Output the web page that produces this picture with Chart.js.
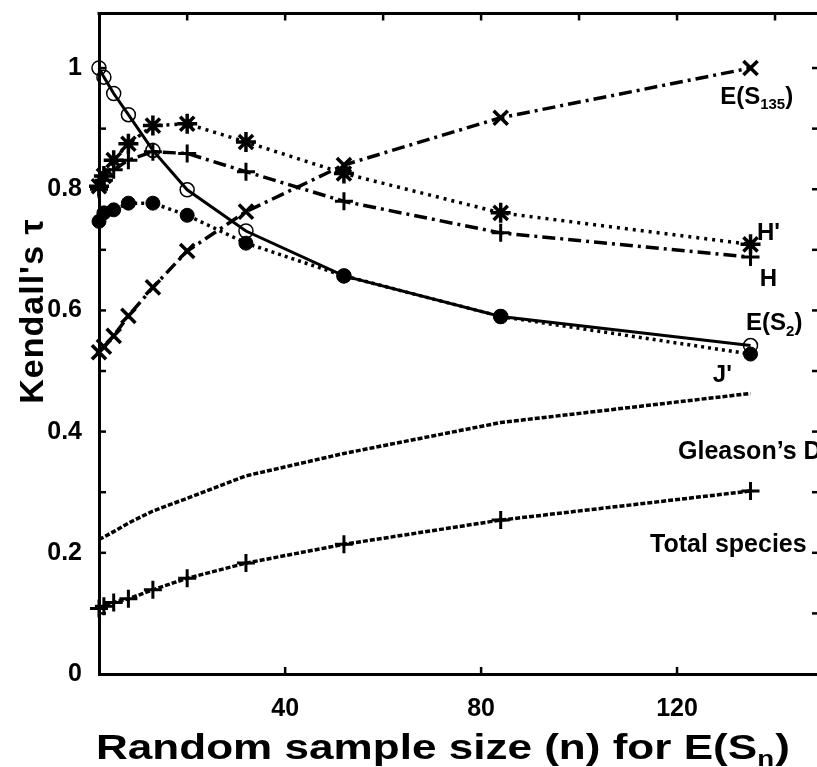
<!DOCTYPE html>
<html>
<head>
<meta charset="utf-8">
<script src="https://cdn.jsdelivr.net/npm/chart.js@4"></script>
<style>
  html, body { margin: 0; padding: 0; background: #fff; overflow: hidden; }
  #wrap { width: 840px; height: 767px; }
</style>
</head>
<body>
<div id="wrap"><canvas id="tau-chart" width="840" height="767"></canvas></div>
<script>
// random sample size n
const sampleSizes = [2, 3, 5, 8, 13, 20, 32, 52, 84, 135];

// Kendall's tau for each index against n
const eS2 = [1.0, 0.985, 0.958, 0.923, 0.864, 0.799, 0.731, 0.657, 0.590, 0.542];
const jPrime = [0.747, 0.761, 0.766, 0.777, 0.777, 0.757, 0.711, 0.657, 0.590, 0.528];
const hPrime = [0.805, 0.822, 0.848, 0.875, 0.905, 0.908, 0.878, 0.826, 0.761, 0.709];
const hIndex = [0.800, 0.815, 0.832, 0.848, 0.862, 0.859, 0.829, 0.780, 0.728, 0.688];
const eS135 = [0.531, 0.540, 0.558, 0.591, 0.638, 0.698, 0.763, 0.840, 0.918, 1.0];
const gleasonD = [0.222, 0.226, 0.235, 0.249, 0.269, 0.290, 0.327, 0.364, 0.415, 0.463];
const totalSpecies = [0.108, 0.112, 0.118, 0.124, 0.139, 0.158, 0.183, 0.214, 0.254, 0.302];

// axis ticks
const xTicks = [40, 80, 120];
const xTopTicks = [20, 40, 60, 80, 100, 120, 140];
const yTicks = [0, 0.2, 0.4, 0.6, 0.8, 1];
const yTickLabels = ['0', '0.2', '0.4', '0.6', '0.8', '1'];
const yMinorTicks = [0.1, 0.2, 0.3, 0.4, 0.5, 0.6, 0.7, 0.8, 0.9, 1.0];

const FONT = '"Liberation Sans", Arial, Helvetica, sans-serif';

function pts(values) {
  return sampleSizes.map((n, i) => ({ x: n, y: values[i] }));
}

function series(label, values, opts) {
  return Object.assign({
    label: label,
    data: pts(values),
    borderColor: '#000',
    backgroundColor: '#000',
    pointBorderColor: '#000',
    pointBackgroundColor: '#000',
    borderWidth: 3,
    tension: 0,
    clip: false,
    pointHoverRadius: 0
  }, opts);
}

// inward tick marks, top/right frame and the text labels
const decorations = {
  id: 'decorations',
  afterDraw(chart) {
    const { ctx, chartArea: a, scales: { x, y } } = chart;
    const seg = (x1, y1, x2, y2) => { ctx.beginPath(); ctx.moveTo(x1, y1); ctx.lineTo(x2, y2); ctx.stroke(); };

    ctx.save();
    ctx.strokeStyle = '#000';
    ctx.lineWidth = 3;
    seg(a.left - 1.5, a.top, a.right + 1.5, a.top);
    seg(a.right, a.top, a.right, a.bottom);

    ctx.lineWidth = 2.5;
    yMinorTicks.forEach(v => {
      const py = y.getPixelForValue(v);
      seg(a.left, py, a.left + 7, py);
      seg(a.right - 12, py, a.right, py);
    });
    xTicks.forEach(v => {
      const px = x.getPixelForValue(v);
      seg(px, a.bottom, px, a.bottom - 7);
    });
    xTopTicks.forEach(v => {
      const px = x.getPixelForValue(v);
      seg(px, a.top, px, a.top + 7);
    });

    ctx.fillStyle = '#000';
    ctx.textBaseline = 'alphabetic';
    ctx.textAlign = 'left';

    // text with an optional subscript part
    const label = (n, tau, main, sub, tail, size) => {
      let px = x.getPixelForValue(n);
      const py = y.getPixelForValue(tau);
      ctx.font = `bold ${size}px ${FONT}`;
      ctx.fillText(main, px, py);
      px += ctx.measureText(main).width;
      if (sub) {
        ctx.font = `bold ${Math.round(size * 0.62)}px ${FONT}`;
        ctx.fillText(sub, px, py + size * 0.22);
        px += ctx.measureText(sub).width;
        ctx.font = `bold ${size}px ${FONT}`;
        ctx.fillText(tail, px, py);
      }
    };

    label(128.8, 0.941, 'E(S', '135', ')', 24);
    label(136.3, 0.716, "H'", null, null, 24);
    label(136.9, 0.641, 'H', null, null, 24);
    label(134.1, 0.567, 'E(S', '2', ')', 24);
    label(127.3, 0.482, "J'", null, null, 24);
    label(120.2, 0.354, 'Gleason\u2019s D', null, null, 25);
    label(114.5, 0.202, 'Total species', null, null, 25);

    // x axis title with subscript n, widened to span the axis
    const main = 'Random sample size (n) for E(S';
    ctx.font = `bold 35px ${FONT}`;
    const wMain = ctx.measureText(main).width;
    const wParen = ctx.measureText(')').width;
    ctx.font = `bold 22px ${FONT}`;
    const wSub = ctx.measureText('n').width + 1;
    const sx = 694 / (wMain + wSub + wParen);
    ctx.save();
    ctx.translate(96, 759);
    ctx.scale(sx, 1);
    ctx.font = `bold 35px ${FONT}`;
    ctx.fillText(main, 0, 0);
    ctx.fillText(')', wMain + wSub, 0);
    ctx.font = `bold 22px ${FONT}`;
    ctx.fillText('n', wMain, 7);
    ctx.restore();

    // y axis title
    ctx.translate(43, 311);
    ctx.rotate(-Math.PI / 2);
    ctx.font = `bold 34px ${FONT}`;
    const yt = "Kendall's \u03c4";
    ctx.letterSpacing = '1px';
    const w = ctx.measureText(yt).width;
    ctx.fillText(yt, -w / 2, 0);
    ctx.restore();
  }
};

new Chart(document.getElementById('tau-chart'), {
  type: 'line',
  data: {
    datasets: [
      series('E(S2)', eS2, { pointStyle: 'circle', pointRadius: 7, pointBackgroundColor: 'rgba(0,0,0,0)', pointBorderWidth: 1.5 }),
      series("J'", jPrime, { borderDash: [3, 4], borderWidth: 3.5, pointStyle: 'circle', pointRadius: 7, pointBorderWidth: 1 }),
      series("H'", hPrime, { borderDash: [3, 5], borderWidth: 3.5, pointStyle: 'star', pointRadius: 10, pointBorderWidth: 3.5 }),
      series('H', hIndex, { borderDash: [13, 5, 3, 5], borderWidth: 3.5, pointStyle: 'cross', pointRadius: 9, pointBorderWidth: 3 }),
      series('E(S135)', eS135, { borderDash: [13, 5, 3, 5], borderWidth: 3.5, pointStyle: 'crossRot', pointRadius: 10, pointBorderWidth: 3.5 }),
      series("Gleason's D", gleasonD, { borderDash: [5, 2], borderWidth: 3.5, pointRadius: 0 }),
      series('Total species', totalSpecies, { borderDash: [5, 2], borderWidth: 3.5, pointStyle: 'cross', pointRadius: 9, pointBorderWidth: 3 })
    ]
  },
  options: {
    responsive: false,
    devicePixelRatio: 1,
    animation: false,
    events: [],
    layout: { padding: { top: 9, right: 16, left: 0, bottom: 0 } },
    plugins: { legend: { display: false }, tooltip: { enabled: false } },
    scales: {
      x: {
        type: 'linear',
        min: 2,
        max: 150,
        afterFit: s => { s.height = 93; s.paddingLeft = 0; s.paddingRight = 0; },
        afterBuildTicks: s => { s.ticks = xTicks.map(v => ({ value: v })); },
        grid: { display: false },
        border: { display: true, color: '#000', width: 3 },
        ticks: {
          color: '#000',
          font: { family: FONT, size: 25, weight: 'bold' },
          padding: 12,
          maxRotation: 0,
          autoSkip: false,
          callback: v => String(v)
        }
      },
      y: {
        type: 'linear',
        min: 0,
        max: 1.09,
        afterFit: s => { s.width = 99; s.paddingTop = 0; s.paddingBottom = 0; },
        afterBuildTicks: s => { s.ticks = yTicks.map(v => ({ value: v })); },
        grid: { display: false },
        border: { display: true, color: '#000', width: 3 },
        ticks: {
          color: '#000',
          font: { family: FONT, size: 25, weight: 'bold', lineHeight: 0.7 },
          padding: 9,
          autoSkip: false,
          callback: (v, i) => yTickLabels[i]
        }
      }
    }
  },
  plugins: [decorations]
});
</script>
</body>
</html>
